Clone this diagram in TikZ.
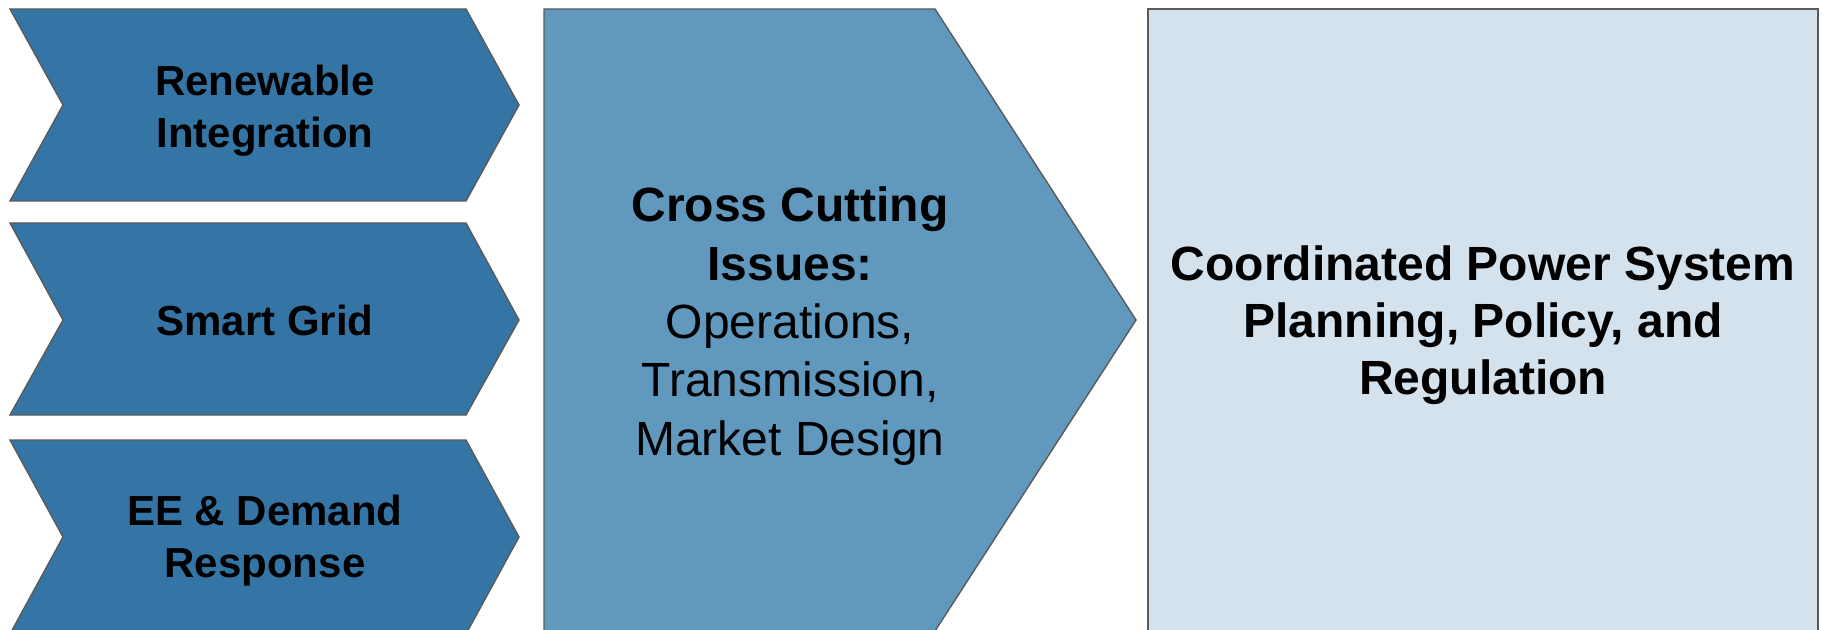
\documentclass[tikz,border=0pt]{standalone}
\usepackage{fontspec}
\setmainfont{Liberation Sans}
\definecolor{chevblue}{HTML}{3475A6}
\definecolor{midblue}{HTML}{6098BE}
\definecolor{paleblue}{HTML}{D4E2ED}
\definecolor{edgegrey}{HTML}{5A5A5A}
\begin{document}
\begin{tikzpicture}[x=0.5pt,y=-0.5pt,
  shapeline/.style={draw=edgegrey, line width=0.7pt, line join=miter},
  chevtext/.style={align=center, font=\fontsize{21}{26}\selectfont\bfseries, text=black, inner sep=0pt},
  bigtext/.style={align=center, font=\fontsize{24}{29.2}\selectfont, text=black, inner sep=0pt}]
\clip (0,0) rectangle (1823,630);
\fill[white] (0,0) rectangle (1823,630);
% chevrons
\path[shapeline, fill=chevblue] (10,9) -- (466,9) -- (519,105) -- (466,201) -- (10,201) -- (63,105) -- cycle;
\path[shapeline, fill=chevblue] (10,223) -- (466,223) -- (519,320) -- (466,415) -- (10,415) -- (63,320) -- cycle;
\path[shapeline, fill=chevblue] (10,440) -- (466,440) -- (519,537) -- (466,634) -- (10,634) -- (63,537) -- cycle;
% pentagon
\path[shapeline, fill=midblue] (544,9) -- (935,9) -- (1136,320) -- (935,631) -- (544,631) -- cycle;
% right box
\path[shapeline, fill=paleblue] (1148,9) rectangle (1818,640);
% texts
\node[chevtext] (ren) at (265,111) {Renewable\\Integration};
\node[chevtext] (sg) at (265,320) {Smart Grid};
\node[chevtext] (ee) at (265,541) {EE \& Demand\\Response};
\node[bigtext] (cc) at (790,326) {\textbf{Cross Cutting}\\\textbf{Issues:}\\Operations,\\Transmission,\\Market Design};
\node[bigtext, font=\fontsize{24}{28.5}\selectfont\bfseries] (cp) at (1483,325) {Coordinated Power System\\Planning, Policy, and\\Regulation};
\end{tikzpicture}
\end{document}
